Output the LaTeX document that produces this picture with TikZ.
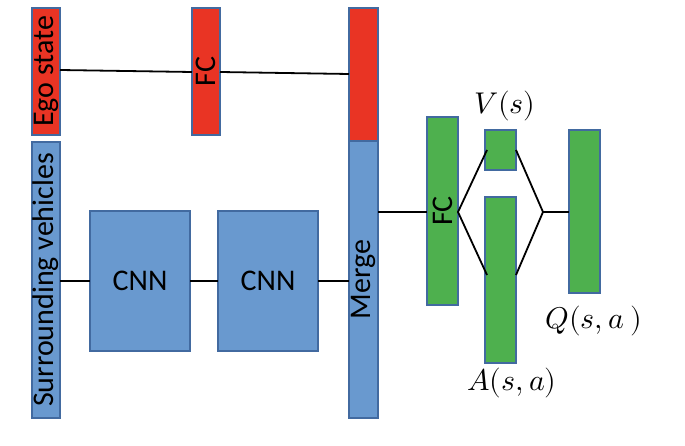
\documentclass[tikz,border=0pt]{standalone}
\usepackage{unicode-math}
\setmainfont{Carlito}
\setmathfont{Latin Modern Math}
\begin{document}
\begin{tikzpicture}[x=1pt,y=-1pt,
 box/.style={draw=bd,line width=1.5pt,inner sep=0pt,outer sep=0pt},
 red/.style={box,fill=rd},blue/.style={box,fill=bl},green/.style={box,fill=gr},
 lab/.style={font=\fontsize{30}{32}\selectfont},
 mlab/.style={font=\fontsize{30}{32}\selectfont},
 ln/.style={line width=1.8pt}]
\definecolor{rd}{RGB}{233,52,36}
\definecolor{bl}{RGB}{105,153,207}
\definecolor{gr}{RGB}{78,176,78}
\definecolor{bd}{RGB}{66,106,160}
\useasboundingbox (0,0) rectangle (685,446);
\node[red,minimum width=28,minimum height=127,anchor=north west] (ego) at (32,8) {};
\node[lab,rotate=90] at (ego.center) {Ego state};
\node[blue,minimum width=28,minimum height=276,anchor=north west] (sur) at (32,142) {};
\node[lab,rotate=90] at (sur.center) {Surrounding vehicles};
\node[red,minimum width=28,minimum height=127,anchor=north west] (fc1) at (192,8) {};
\node[lab,rotate=90] at (fc1.center) {FC};
\node[blue,minimum width=100,minimum height=140,anchor=north west,lab] (c1) at (90,211) {CNN};
\node[blue,minimum width=100,minimum height=140,anchor=north west,lab] (c2) at (218,211) {CNN};
\node[red,minimum width=29,minimum height=133,anchor=north west] (mr) at (349,8) {};
\node[blue,minimum width=29,minimum height=277,anchor=north west] (mb) at (349,141) {};
\node[lab,rotate=90] at (mb.center) {Merge};
\node[green,minimum width=31,minimum height=188,anchor=north west] (fc2) at (427,117) {};
\node[lab,rotate=90] at (fc2.center) {FC};
\node[green,minimum width=31,minimum height=40,anchor=north west] (v) at (485,130) {};
\node[green,minimum width=31,minimum height=166,anchor=north west] (a) at (485,197) {};
\node[green,minimum width=31,minimum height=163,anchor=north west] (q) at (569,130) {};
\node[mlab] at (505,106) {$V(s)$};
\node[mlab] at (512,383) {$A(s,a)$};
\node[mlab] at (594,321) {$Q(s,a~)$};
\coordinate (p1) at (487,150); \coordinate (p2) at (487,275);
\coordinate (p3) at (516,150); \coordinate (p4) at (516,275);
\coordinate (j) at (543,212);
\draw[ln] (60,70) -- (fc1.west|-0,72);
\draw[ln] (fc1.east|-0,72) -- (349,74);
\draw[ln] (sur.east|-c1.west) -- (c1.west);
\draw[ln] (c1) -- (c2);
\draw[ln] (c2.east) -- (mb.west|-c2.east);
\draw[ln] (mb.east|-0,212) -- (fc2.west|-0,212);
\draw[ln] (p1) -- (fc2.east|-0,212) -- (p2);
\draw[ln] (p3) -- (j) -- (p4);
\draw[ln] (j) -- (q.west|-j);
\end{tikzpicture}
\end{document}
